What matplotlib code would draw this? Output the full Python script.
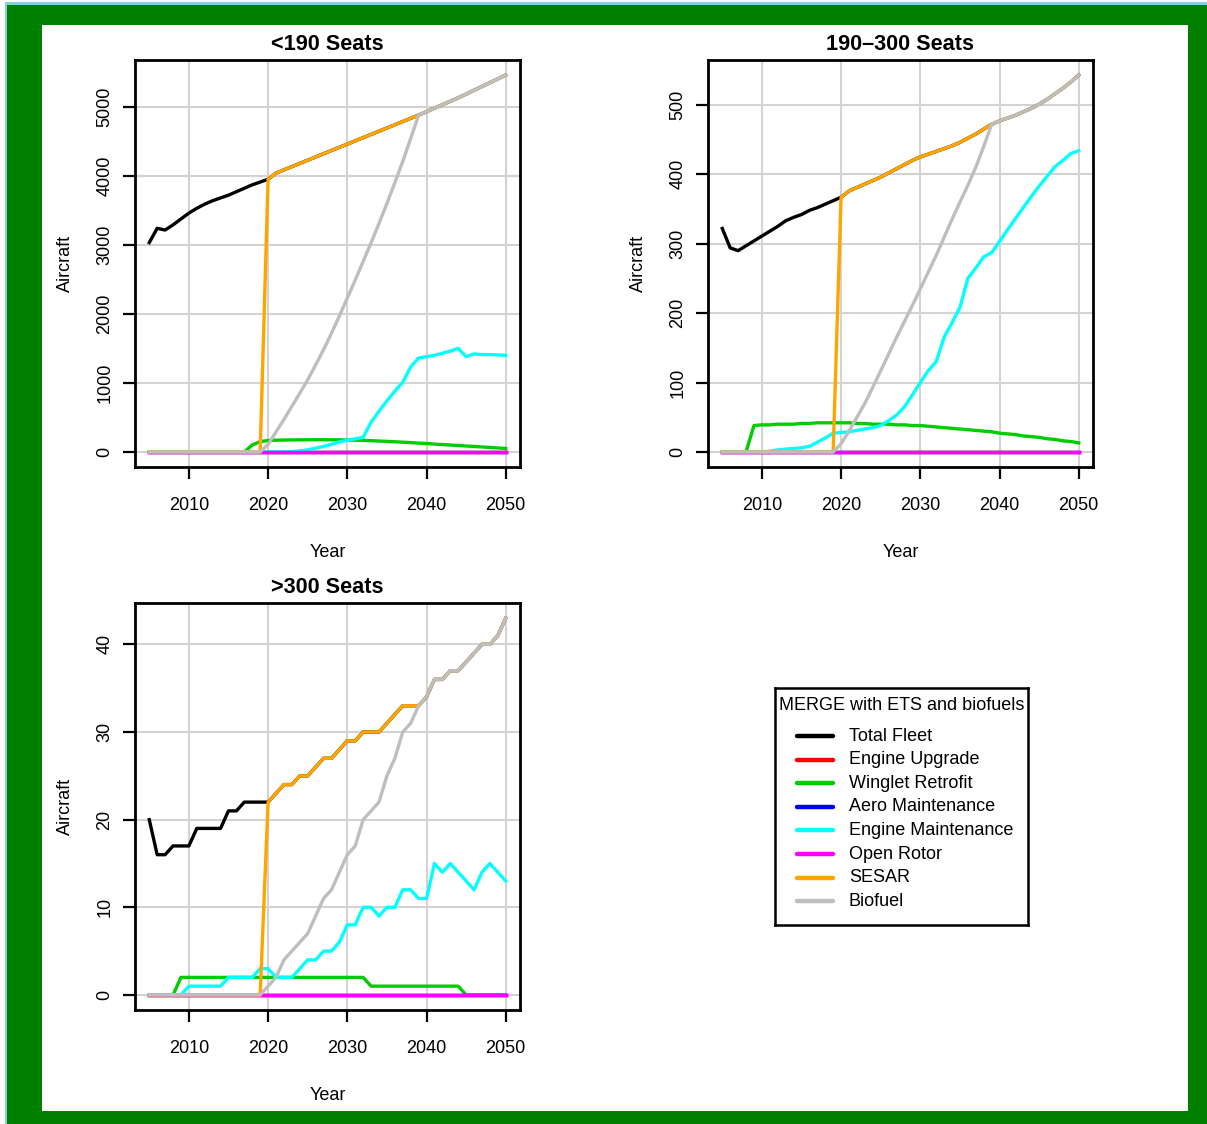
import matplotlib
matplotlib.use("Agg")
import matplotlib.pyplot as plt
from matplotlib.patches import Rectangle

plt.rcParams["font.family"] = ["Liberation Sans", "DejaVu Sans"]

W, H = 1207, 1124
YEARS = list(range(2005, 2051))

SERIES_NAMES = ["Total Fleet", "Engine Upgrade", "Winglet Retrofit", "Aero Maintenance",
                "Engine Maintenance", "Open Rotor", "SESAR", "Biofuel"]
SERIES_COLORS = ["#000000", "#ff0000", "#00cd00", "#0000ff",
                 "#00ffff", "#ff00ff", "#ffa500", "#bebebe"]
LEGEND_TITLE = "MERGE with ETS and biofuels"

ZEROS = [0, 0, 0, 0, 0, 0, 0, 0, 0, 0, 0, 0, 0, 0, 0, 0, 0, 0, 0, 0, 0, 0, 0,
         0, 0, 0, 0, 0, 0, 0, 0, 0, 0, 0, 0, 0, 0, 0, 0, 0, 0, 0, 0, 0, 0, 0]

# <190 seats
small_total = [3033, 3240, 3215, 3290, 3375, 3460, 3530, 3590, 3640, 3680, 3720, 3770,
               3820, 3870, 3910, 3950,
               4040, 4087, 4133, 4180, 4227, 4273, 4320, 4367, 4413, 4460, 4507, 4553,
               4600, 4647, 4693, 4740, 4787, 4833, 4880,
               4930, 4980, 5030, 5080, 5130, 5185, 5240, 5295, 5350, 5405, 5460]
small_winglet = [0, 0, 0, 0, 0, 0, 0, 0, 0, 0, 0, 0, 0, 100, 150, 165,
                 170, 172, 174, 175, 176, 177, 177, 176, 175, 173,
                 170, 167, 163, 158, 153, 147, 141, 135, 128, 121,
                 114, 107, 100, 93, 86, 79, 72, 65, 58, 50]
small_engine_maint = [0, 0, 0, 0, 0, 0, 0, 0, 0, 0, 0, 0, 0, 0, 0, 0, 0, 0,
                      5, 15, 30, 55, 80, 110, 145, 170, 190, 210,
                      430, 590, 740, 880, 1010, 1230, 1360, 1380, 1400, 1430,
                      1460, 1500, 1380, 1420, 1410, 1410, 1405, 1400]
small_sesar = [0, 0, 0, 0, 0, 0, 0, 0, 0, 0, 0, 0, 0, 0, 0, 3950,
               4040, 4087, 4133, 4180, 4227, 4273, 4320, 4367, 4413, 4460, 4507, 4553,
               4600, 4647, 4693, 4740, 4787, 4833, 4880,
               4930, 4980, 5030, 5080, 5130, 5185, 5240, 5295, 5350, 5405, 5460]
small_biofuel = [0, 0, 0, 0, 0, 0, 0, 0, 0, 0, 0, 0, 0, 0, 0,
                 110, 290, 470, 660, 850, 1045, 1260, 1480, 1720, 1970, 2230, 2490,
                 2760, 3030, 3310, 3600, 3900, 4210, 4540, 4880,
                 4930, 4980, 5030, 5080, 5130, 5185, 5240, 5295, 5350, 5405, 5460]

# 190-300 seats
mid_total = [322, 294, 290, 297, 304, 311, 318, 325, 333, 338, 342, 348, 352, 357, 362, 367,
             376, 381, 386, 391, 396, 402, 408, 414, 420, 425, 429, 433, 437, 441, 446,
             452, 458, 465, 472,
             477, 481, 485, 490, 495, 501, 508, 516, 524, 533, 543]
mid_winglet = [0, 0, 0, 0, 38, 39, 39, 40, 40, 40, 41, 41, 42, 42, 42, 42, 42, 41, 41, 40,
               40, 40, 39, 39, 38, 38, 37, 36, 35, 34, 33, 32, 31, 30, 29, 27, 26, 25, 23,
               22, 21, 19, 18, 16, 15, 13]
mid_engine_maint = [0, 0, 0, 0, 0, 0, 1, 3, 4, 5, 6, 8, 14, 20, 27, 28, 29, 31, 33, 35,
                    38, 45, 53, 65, 82, 100, 117, 130, 165, 186, 208, 250, 265, 281, 287,
                    303, 320, 336, 352, 368, 383, 397, 411, 420, 430, 434]
mid_sesar = [0, 0, 0, 0, 0, 0, 0, 0, 0, 0, 0, 0, 0, 0, 0, 367,
             376, 381, 386, 391, 396, 402, 408, 414, 420, 425, 429, 433, 437, 441, 446,
             452, 458, 465, 472,
             477, 481, 485, 490, 495, 501, 508, 516, 524, 533, 543]
mid_biofuel = [0, 0, 0, 0, 0, 0, 0, 0, 0, 0, 0, 0, 0, 0, 0,
               12, 30, 50, 70, 93, 117, 141, 165, 188, 211, 235, 259, 283, 309, 335,
               360, 384, 410, 440, 472,
               477, 481, 485, 490, 495, 501, 508, 516, 524, 533, 543]

# >300 seats
large_total = [20, 16, 16, 17, 17, 17, 19, 19, 19, 19, 21, 21, 22, 22, 22, 22,
               23, 24, 24, 25, 25, 26, 27, 27, 28, 29, 29, 30, 30, 30, 31, 32, 33, 33, 33,
               34, 36, 36, 37, 37, 38, 39, 40, 40, 41, 43]
large_winglet = [0, 0, 0, 0, 2, 2, 2, 2, 2, 2, 2, 2, 2, 2, 2, 2, 2, 2, 2, 2, 2, 2, 2, 2,
                 2, 2, 2, 2, 1, 1, 1, 1, 1, 1, 1, 1, 1, 1, 1, 1, 0, 0, 0, 0, 0, 0]
large_engine_maint = [0, 0, 0, 0, 0, 1, 1, 1, 1, 1, 2, 2, 2, 2, 3, 3, 2, 2, 2, 3, 4, 4,
                      5, 5, 6, 8, 8, 10, 10, 9, 10, 10, 12, 12, 11, 11, 15, 14, 15, 14,
                      13, 12, 14, 15, 14, 13]
large_sesar = [0, 0, 0, 0, 0, 0, 0, 0, 0, 0, 0, 0, 0, 0, 0, 22,
               23, 24, 24, 25, 25, 26, 27, 27, 28, 29, 29, 30, 30, 30, 31, 32, 33, 33, 33,
               34, 36, 36, 37, 37, 38, 39, 40, 40, 41, 43]
large_biofuel = [0, 0, 0, 0, 0, 0, 0, 0, 0, 0, 0, 0, 0, 0, 0,
                 1, 2, 4, 5, 6, 7, 9, 11, 12, 14, 16, 17, 20, 21, 22, 25, 27, 30, 31, 33,
                 34, 36, 36, 37, 37, 38, 39, 40, 40, 41, 43]

PANELS = [
    ("<190 Seats", [small_total, ZEROS, small_winglet, ZEROS, small_engine_maint, ZEROS,
                    small_sesar, small_biofuel], [0, 1000, 2000, 3000, 4000, 5000]),
    ("190\u2013300 Seats", [mid_total, ZEROS, mid_winglet, ZEROS, mid_engine_maint, ZEROS,
                            mid_sesar, mid_biofuel], [0, 100, 200, 300, 400, 500]),
    (">300 Seats", [large_total, ZEROS, large_winglet, ZEROS, large_engine_maint, ZEROS,
                    large_sesar, large_biofuel], [0, 10, 20, 30, 40]),
]
X_TICKS = [2010, 2020, 2030, 2040, 2050]

# axes boxes in pixels: left, top, right, bottom
BOXES = [(135, 60, 520, 467), (708, 60, 1093, 467), (135, 603, 520, 1010)]
LEGEND_BOX = (775, 688, 1028, 925)


def frac_rect(x0, y0, x1, y1):
    return (x0 / W, 1 - y1 / H, (x1 - x0) / W, (y1 - y0) / H)


fig = plt.figure(figsize=(W / 100, H / 100), dpi=100)
fig.patch.set_facecolor("white")
for (x0, y0, x1, y1), col in [((5, 2, W, H), "#80d4d4"), ((7, 5, W, H), "#008000"),
                              ((42, 25, 1188, 1111), "white")]:
    fig.add_artist(Rectangle((x0 / W, 1 - y1 / H), (x1 - x0) / W, (y1 - y0) / H,
                             transform=fig.transFigure, facecolor=col, edgecolor="none",
                             zorder=-10))

for (title, series, yticks), box in zip(PANELS, BOXES):
    ax = fig.add_axes(frac_rect(*box))
    for vals, col in zip(series, SERIES_COLORS):
        ax.plot(YEARS, vals, color=col, lw=2.4, solid_joinstyle="round", zorder=3)
    top = max(series[0])
    pad = 0.04 * top
    ax.set_ylim(-pad, top + pad)
    ax.set_xlim(2005 - 0.04 * 45, 2050 + 0.04 * 45)
    ax.set_xticks(X_TICKS)
    ax.set_yticks(yticks)
    ax.grid(True, color="#d3d3d3", lw=1.5, zorder=0)
    ax.set_axisbelow(True)
    for sp in ax.spines.values():
        sp.set_linewidth(2.0)
    ax.tick_params(axis="both", length=8.5, width=1.6, labelsize=13, colors="black")
    ax.tick_params(axis="x", pad=13)
    ax.tick_params(axis="y", pad=7)
    for lab in ax.get_yticklabels():
        lab.set_rotation(90)
        lab.set_va("center")
    ax.set_xlabel("Year", fontsize=13, labelpad=22)
    ax.set_ylabel("Aircraft", fontsize=13, labelpad=16)
    ax.set_title(title, fontsize=15.6, fontweight="bold", pad=7)

# legend drawn in a pixel-coordinate box, R style
lx0, ly0, lx1, ly1 = LEGEND_BOX
lax = fig.add_axes(frac_rect(*LEGEND_BOX))
lax.set_xlim(lx0, lx1)
lax.set_ylim(ly1, ly0)
lax.set_xticks([])
lax.set_yticks([])
for sp in lax.spines.values():
    sp.set_linewidth(1.8)
lax.text(lx0 + 4, ly0 + 17, LEGEND_TITLE, fontsize=13, ha="left", va="center")
row_gap = 23.6
for i, (name, col) in enumerate(zip(SERIES_NAMES, SERIES_COLORS)):
    yy = ly0 + 48 + i * row_gap
    lax.plot([lx0 + 22, lx0 + 58], [yy, yy], color=col, lw=3.2, solid_capstyle="round")
    lax.text(lx0 + 74, yy, name, fontsize=13, ha="left", va="center")

fig.savefig("out.png", dpi=100)
